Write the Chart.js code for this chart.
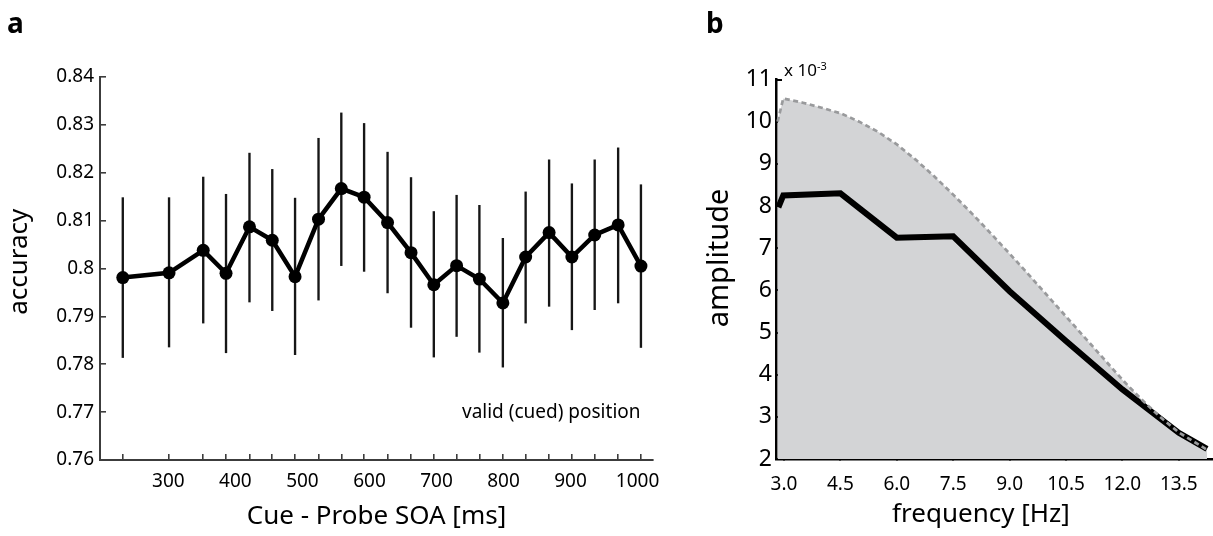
<!DOCTYPE html>
<html>
<head>
<meta charset="utf-8">
<title>Accuracy and amplitude</title>
<script src="https://cdn.jsdelivr.net/npm/chart.js@4.4.1/dist/chart.umd.min.js"></script>
<style>
    body { margin: 0; background: #fff; }
    .page { position: relative; width: 1213px; height: 536px; overflow: hidden; font-family: 'Noto Sans', sans-serif; color: #000; }
    .panel { position: absolute; top: 0; }
    .panel canvas { display: block; }
    .tag { position: absolute; font-weight: bold; font-size: 28px; line-height: 1; }
    .note { position: absolute; line-height: 1; white-space: nowrap; }
</style>
</head>
<body>
<div class="page">
    <div class="panel" style="left:0"><canvas id="chartA" width="690" height="536"></canvas></div>
    <div class="panel" style="left:690px"><canvas id="chartB" width="523" height="536"></canvas></div>
    <div class="tag" style="left:7px;top:8px">a</div>
    <div class="tag" style="left:706px;top:8px">b</div>
    <div class="note" style="left:462px;top:402px;font-size:19px">valid (cued) position</div>
    <div class="note" style="left:784px;top:61px;font-size:17px">x 10<span style="font-size:11px;position:relative;top:-6px">-3</span></div>
</div>

<script>
    // panel a: accuracy against cue - probe SOA (ms), with error bars
    const soa = [232, 301, 352, 386, 421, 455, 489, 524, 558, 592, 627, 662, 696, 730, 764, 799, 833, 868, 902, 936, 971, 1005];
    const accuracy = [0.7981, 0.7991, 0.8038, 0.7990, 0.8087, 0.8059, 0.7983, 0.8103, 0.8167, 0.8149, 0.8096,
                      0.8033, 0.7966, 0.8006, 0.7978, 0.7928, 0.8024, 0.8075, 0.8024, 0.8070, 0.8091, 0.8005];
    const accHigh = [0.8148, 0.8148, 0.8191, 0.8155, 0.8241, 0.8207, 0.8147, 0.8272, 0.8325, 0.8303, 0.8243,
                     0.8190, 0.8119, 0.8153, 0.8132, 0.8063, 0.8160, 0.8227, 0.8177, 0.8227, 0.8252, 0.8175];
    const accLow = [0.7814, 0.7836, 0.7886, 0.7824, 0.7930, 0.7912, 0.7820, 0.7934, 0.8006, 0.7994, 0.7949,
                    0.7877, 0.7815, 0.7858, 0.7825, 0.7794, 0.7886, 0.7921, 0.7872, 0.7914, 0.7928, 0.7835];
    const soaTicks = [300, 400, 500, 600, 700, 800, 900, 1000];
    const accTicks = [0.76, 0.77, 0.78, 0.79, 0.80, 0.81, 0.82, 0.83, 0.84];

    // panel b: amplitude (x 10^-3) against frequency
    const freq = [2.85, 2.98, 4.5, 6.0, 7.5, 9.0, 10.5, 12.0, 13.5, 14.25];
    const amplitude = [7.97, 8.25, 8.3, 7.25, 7.28, 5.98, 4.8, 3.65, 2.62, 2.24];
    const freqBound = [2.83, 2.98, 3.5, 4.0, 4.5, 5.0, 5.5, 6.0, 6.5, 7.0, 7.5, 8.0, 8.5, 9.0,
                       9.5, 10.0, 10.5, 11.0, 11.5, 12.0, 12.5, 13.0, 13.5, 14.25];
    const ampBound = [10.0, 10.55, 10.45, 10.33, 10.2, 10.0, 9.76, 9.46, 9.1, 8.7, 8.27, 7.82, 7.35, 6.87,
                      6.38, 5.88, 5.38, 4.88, 4.38, 3.88, 3.42, 3.0, 2.63, 2.22];
    const freqTicks = [3.0, 4.5, 6.0, 7.5, 9.0, 10.5, 12.0, 13.5];
    const ampTicks = [2, 3, 4, 5, 6, 7, 8, 9, 10, 11];

    const FONT = "'Noto Sans', sans-serif";

    // pin the axis boxes so the plot areas land where the figure has them
    function fixWidth(w) {
        return s => { s.width = w; s.paddingTop = 0; s.paddingBottom = 0; };
    }
    function fixHeight(h) {
        return s => { s.height = h; s.paddingLeft = 0; s.paddingRight = 0; };
    }
    function setTicks(values) {
        return s => { s.ticks = values.map(v => ({ value: v })); };
    }

    new Chart(document.getElementById('chartA'), {
        type: 'line',
        data: {
            datasets: [{
                type: 'line',
                data: soa.map((x, i) => ({ x: x, y: accuracy[i] })),
                borderColor: '#000',
                borderWidth: 4.5,
                pointRadius: 6.5,
                pointBackgroundColor: '#000',
                pointBorderWidth: 0,
                order: 0
            }, {
                type: 'bar',
                data: soa.map((x, i) => ({ x: x, y: [accLow[i], accHigh[i]] })),
                backgroundColor: '#161616',
                barThickness: 1.7,
                order: 1
            }]
        },
        options: {
            responsive: false,
            animation: false,
            layout: { padding: { left: 0, right: 37, top: 77, bottom: 0 } },
            plugins: { legend: { display: false }, tooltip: { enabled: false } },
            scales: {
                x: {
                    type: 'linear', min: 198, max: 1023, offset: false, weight: 0,
                    afterBuildTicks: setTicks(soa),
                    ticks: { display: false },
                    grid: { offset: false, drawOnChartArea: false, tickLength: -6, color: '#3c3c3c', lineWidth: 1.6 },
                    border: { color: '#3c3c3c', width: 2 },
                    afterFit: fixHeight(0)
                },
                x2: {
                    type: 'linear', axis: 'x', position: 'bottom', min: 198, max: 1023, offset: false, weight: 1,
                    afterBuildTicks: setTicks(soaTicks),
                    ticks: { autoSkip: false, maxRotation: 0, padding: 10, color: '#000', font: { family: FONT, size: 19 }, callback: v => v },
                    grid: { display: false, drawTicks: false },
                    border: { display: false },
                    title: { display: true, text: 'Cue - Probe SOA [ms]', color: '#000', font: { family: FONT, size: 26 }, padding: { top: 0, bottom: 4 } },
                    afterFit: fixHeight(76)
                },
                y: {
                    type: 'linear', min: 0.76, max: 0.84,
                    afterBuildTicks: setTicks(accTicks),
                    ticks: { padding: 12, color: '#000', font: { family: FONT, size: 19 }, callback: v => String(parseFloat(v.toFixed(2))) },
                    grid: { drawOnChartArea: false, tickLength: -6, color: '#3c3c3c', lineWidth: 1.6 },
                    border: { color: '#3c3c3c', width: 2 },
                    // leading spaces nudge the rotated title up to where the figure has it
                    title: { display: true, text: '  accuracy', color: '#000', font: { family: FONT, size: 26 }, padding: { top: 4, bottom: 0 } },
                    afterFit: fixWidth(100)
                }
            }
        }
    });

    new Chart(document.getElementById('chartB'), {
        type: 'line',
        data: {
            datasets: [{
                data: freqBound.map((x, i) => ({ x: x, y: ampBound[i] })),
                borderColor: '#999a9c',
                borderWidth: 2.7,
                borderDash: [5, 3.5],
                fill: 'start',
                backgroundColor: '#d3d4d6',
                pointRadius: 0,
                order: 0
            }, {
                data: freq.map((x, i) => ({ x: x, y: amplitude[i] })),
                borderColor: '#000',
                borderWidth: 6,
                borderJoinStyle: 'miter',
                fill: false,
                pointRadius: 0,
                order: 1
            }]
        },
        options: {
            responsive: false,
            animation: false,
            layout: { padding: { left: 0, right: 0, top: 79.5, bottom: 0 } },
            plugins: {
                legend: { display: false },
                tooltip: { enabled: false },
                filler: { drawTime: 'beforeDatasetsDraw' }
            },
            scales: {
                x: {
                    type: 'linear', min: 2.787, max: 14.41, z: 1,
                    afterBuildTicks: setTicks(freqTicks),
                    ticks: { autoSkip: false, maxRotation: 0, padding: 20, color: '#000', font: { family: FONT, size: 19 }, callback: v => v.toFixed(1) },
                    grid: { drawOnChartArea: false, tickLength: -6, color: '#000', lineWidth: 2 },
                    border: { color: '#000', width: 2.5 },
                    // trailing spaces shift the centred title left, as in the figure
                    title: { display: true, text: 'frequency [Hz]    ', color: '#000', font: { family: FONT, size: 26 }, padding: { top: 0, bottom: 6 } },
                    afterFit: fixHeight(77)
                },
                y: {
                    type: 'linear', min: 2, max: 11, z: 1,
                    afterBuildTicks: setTicks(ampTicks),
                    ticks: { padding: 10, color: '#000', font: { family: FONT, size: 23 } },
                    grid: { drawOnChartArea: false, tickLength: -6, color: '#000', lineWidth: 2 },
                    border: { color: '#000', width: 2.5 },
                    title: { display: true, text: '   amplitude', color: '#000', font: { family: FONT, size: 29 }, padding: { top: 12, bottom: 0 } },
                    afterFit: fixWidth(86)
                }
            }
        }
    });
</script>
</body>
</html>
